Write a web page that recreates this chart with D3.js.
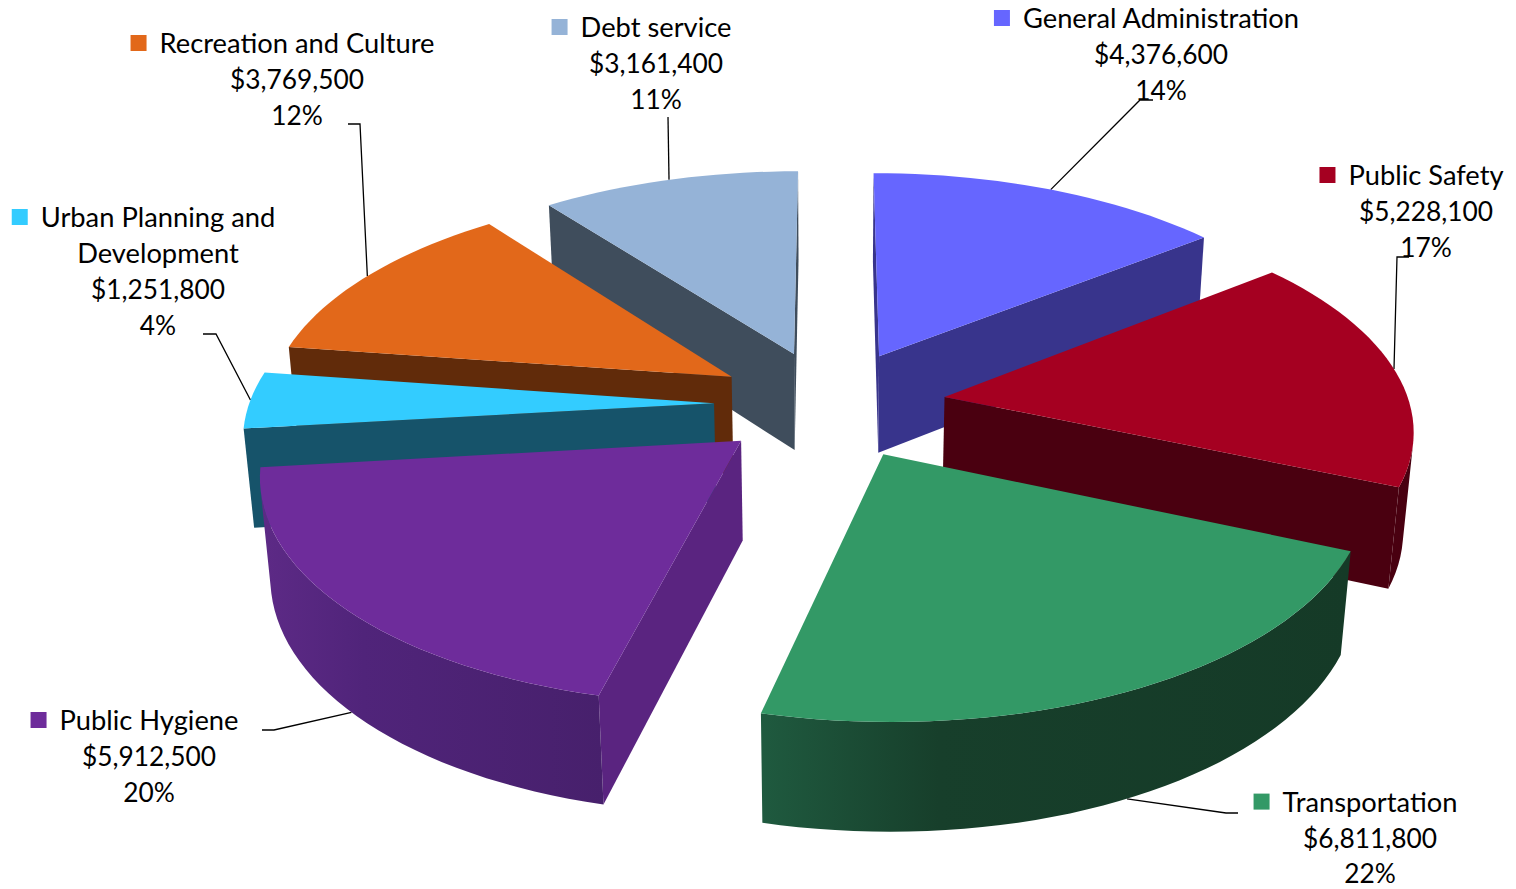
<!DOCTYPE html>
<html>
<head>
<meta charset="utf-8">
<title>Budget by function</title>
<script src="https://cdn.jsdelivr.net/npm/d3@7"></script>
<style>
  html, body { margin: 0; padding: 0; background: #fff; overflow: hidden; }
  svg { display: block; }
  text { font-family: Lato, "Open Sans", sans-serif; fill: #000; }
</style>
</head>
<body>
<div id="chart"></div>
<script>
// Budget figures, clockwise from twelve o'clock
const categories = ["General Administration", "Public Safety", "Transportation", "Public Hygiene",
                    ["Urban Planning and", "Development"], "Recreation and Culture", "Debt service"];
const amounts = [4376600, 5228100, 6811800, 5912500, 1251800, 3769500, 3161400];
const amountLabels = ["$4,376,600", "$5,228,100", "$6,811,800", "$5,912,500", "$1,251,800", "$3,769,500", "$3,161,400"];
const shareLabels = ["14%", "17%", "22%", "20%", "4%", "12%", "11%"];

const topColors  = ["#6666FF", "#A50021", "#339966", "#6E2C9B", "#33CCFF", "#E2681A", "#95B3D7"];
const sideColors = ["#38348C", "#4A0010", "#173F2B", "#5A2480", "#16536A", "#612B0A", "#3F4D5C"];
const rimRight   = ["#38348C", "#480010", "#153A27", "#47206C", "#16536A", "#612B0A", "#3F4D5C"];
const rimMiddle  = ["#38348C", "#490010", "#173F2B", "#50247A", "#17566D", "#612B0A", "#3F4D5C"];
const rimLeft    = ["#38348C", "#4A0010", "#1F5A3F", "#5D2A86", "#1A5A72", "#612B0A", "#3F4D5C"];

// Back slices are painted first so nearer ones cover them
const paintOrder = [6, 0, 5, 1, 4, 3, 2];

// Label blocks: centre x, first baseline, and the bent leader's start and elbow
const labelLayout = [
  { x: 1161, y: 28,  from: [1153, 100], elbow: [1140, 100], base: 0 },
  { x: 1426, y: 185, from: [1409, 257], elbow: [1397, 257], base: 0 },
  { x: 1370, y: 811.6, from: [1238, 813], elbow: [1226, 813], base: 1 },
  { x: 149,  y: 730, from: [262, 730],  elbow: [274, 730],  base: 1 },
  { x: 158,  y: 227, from: [203, 334],  elbow: [216, 334],  base: 0 },
  { x: 297,  y: 53,  from: [348, 124],  elbow: [360, 124],  base: 0 },
  { x: 656,  y: 37,  from: [668, 117],  elbow: [668, 117],  base: 0 }
];

// Perspective camera over the ground plane (X right, Y towards the viewer)
const width = 1516, height = 889;
const cx = 830, cy = 404;
const radius = 465, explode = 116;
const tilt = 0.47, depth = 100;
const perspective = 0.00028, sink = 0.018;
const nameSize = 27.3, numberSize = 26.3, lineGap = 35.9;

function project(X, Y, z) {
  const w = 1 - Y * perspective + z * sink;
  return [cx + X / w, cy + (Y * tilt + z * depth) / w];
}

const svg = d3.select("#chart").append("svg").attr("width", width).attr("height", height);
const defs = svg.append("defs");
const pathOf = d3.line();
const slices = d3.pie().sort(null).value(d => d)(amounts);

function geometry(slice) {
  const mid = (slice.startAngle + slice.endAngle) / 2;
  const ox = explode * Math.sin(mid), oy = -explode * Math.cos(mid);
  const steps = Math.max(4, Math.ceil((slice.endAngle - slice.startAngle) / (Math.PI / 90)));
  const rim = d3.range(steps + 1).map(i => {
    const a = slice.startAngle + (slice.endAngle - slice.startAngle) * i / steps;
    return [ox + radius * Math.sin(a), oy - radius * Math.cos(a)];
  });
  return { mid, ox, oy, rim };
}

// A wall quad faces the viewer when its screen winding runs against the top face's
function facesViewer(quad) {
  let area = 0;
  quad.forEach((p, i) => {
    const q = quad[(i + 1) % quad.length];
    area += p[0] * q[1] - q[0] * p[1];
  });
  return area < 0;
}

function wall(a, b) {
  return [project(a[0], a[1], 0), project(b[0], b[1], 0), project(b[0], b[1], 1), project(a[0], a[1], 1)];
}

// Leader lines sit under the slices and run to the rim at each slice's middle angle
const leaders = svg.append("g").attr("fill", "none").attr("stroke", "#000").attr("stroke-width", 1.3);
slices.forEach((slice, i) => {
  const g = geometry(slice), spot = labelLayout[i];
  const end = project(g.ox + radius * Math.sin(g.mid), g.oy - radius * Math.cos(g.mid), spot.base);
  leaders.append("path").attr("d", pathOf([spot.from, spot.elbow, end]));
});

const pieLayer = svg.append("g");
paintOrder.forEach(i => {
  const g = geometry(slices[i]);
  const layer = pieLayer.append("g");
  const apex = [g.ox, g.oy];
  const first = g.rim[0], last = g.rim[g.rim.length - 1];

  // Straight cut faces
  [[apex, first], [last, apex]].forEach(([a, b]) => {
    const quad = wall(a, b);
    if (facesViewer(quad)) {
      layer.append("path").attr("d", pathOf(quad) + "Z").attr("fill", sideColors[i]);
    }
  });

  // Curved outer wall: the run of rim steps that face the viewer, one gradient-filled shape
  const run = [];
  g.rim.slice(1).forEach((p, k) => {
    if (facesViewer(wall(g.rim[k], p))) {
      if (!run.length) run.push(g.rim[k]);
      run.push(p);
    }
  });
  if (run.length > 1) {
    const upper = run.map(p => project(p[0], p[1], 0));
    const lower = run.map(p => project(p[0], p[1], 1)).reverse();
    const outline = upper.concat(lower);
    const [x1, x2] = d3.extent(outline, p => p[0]);
    const gradient = defs.append("linearGradient").attr("id", "rim" + i)
      .attr("gradientUnits", "userSpaceOnUse")
      .attr("x1", x1).attr("x2", x2).attr("y1", 0).attr("y2", 0);
    gradient.append("stop").attr("offset", 0).attr("stop-color", rimLeft[i]);
    gradient.append("stop").attr("offset", 0.3).attr("stop-color", rimMiddle[i]);
    gradient.append("stop").attr("offset", 1).attr("stop-color", rimRight[i]);
    layer.append("path").attr("d", pathOf(outline) + "Z").attr("fill", `url(#rim${i})`);
  }

  // Top face
  const top = [apex, ...g.rim].map(p => project(p[0], p[1], 0));
  layer.append("path").attr("d", pathOf(top) + "Z").attr("fill", topColors[i]);
});

// Label blocks with their colour keys
const labels = svg.append("g").attr("text-anchor", "middle");
categories.forEach((name, i) => {
  const spot = labelLayout[i];
  const nameLines = [].concat(name);
  const lines = nameLines.concat(amountLabels[i], shareLabels[i]);
  const block = labels.append("g");
  lines.forEach((line, k) => {
    block.append("text").attr("x", spot.x).attr("y", spot.y + k * lineGap)
      .attr("font-size", k < nameLines.length ? nameSize : numberSize).text(line);
  });
  const firstWidth = block.select("text").node().getComputedTextLength();
  block.append("rect")
    .attr("x", spot.x - firstWidth / 2 - 29).attr("y", spot.y - 18)
    .attr("width", 16).attr("height", 16).attr("fill", topColors[i]);
});
</script>
</body>
</html>
